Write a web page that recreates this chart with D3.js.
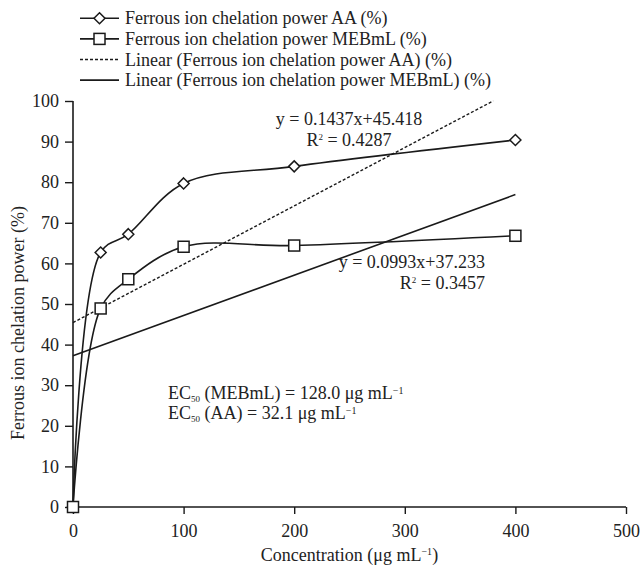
<!DOCTYPE html>
<html><head><meta charset="utf-8">
<script src="https://cdn.jsdelivr.net/npm/d3@7"></script>
<style>body{margin:0;background:#fff}svg{display:block}text{font-family:"Liberation Serif","DejaVu Serif",serif;fill:#222}</style>
</head><body><svg id="c" width="643" height="567"></svg>
<script>
const concentrations = [0, 25, 50, 100, 200, 400];
const aaValues = [0, 62.7, 67.2, 79.7, 83.9, 90.4];
const mebValues = [0, 48.9, 56.1, 64.1, 64.4, 66.8];
const xTicks = [0, 100, 200, 300, 400, 500];
const yTicks = [0, 10, 20, 30, 40, 50, 60, 70, 80, 90, 100];
const trendAA = {slope: 0.1437, intercept: 45.418, xEnd: 380};
const trendMEB = {slope: 0.0993, intercept: 37.233, xEnd: 400};
const legendLabels = ["Ferrous ion chelation power AA (%)", "Ferrous ion chelation power MEBmL (%)", "Linear (Ferrous ion chelation power AA) (%)", "Linear (Ferrous ion chelation power MEBmL) (%)"];

const FS = 18;
const svg = d3.select("#c");
const x = d3.scaleLinear().domain([0, 500]).range([73, 626]);
const y = d3.scaleLinear().domain([0, 100]).range([507, 101]);
const ink = "#1a1a1a";

// axes
const xAxis = svg.append("g").attr("transform", `translate(0,${y(0)})`)
  .call(d3.axisBottom(x).tickValues(xTicks).tickSize(7).tickPadding(10));
const yAxis = svg.append("g").attr("transform", `translate(${x(0)},0)`)
  .call(d3.axisLeft(y).tickValues(yTicks).tickSize(8).tickPadding(6));
[xAxis, yAxis].forEach(g => {
  g.select(".domain").attr("stroke", ink).attr("stroke-width", 1.6);
  g.selectAll(".tick line").attr("stroke", ink).attr("stroke-width", 1.4);
  g.selectAll(".tick text").attr("font-size", FS).attr("font-family", "Liberation Serif").attr("fill", "#222");
});
xAxis.select(".domain").attr("d", `M${x(0)},0H${x(500)}`);
yAxis.select(".domain").attr("d", `M0,${y(0)}V${y(100)}`);

// trend lines
function trend(t, dash) {
  svg.append("line")
    .attr("x1", x(0)).attr("y1", y(t.intercept))
    .attr("x2", x(t.xEnd)).attr("y2", y(t.slope * t.xEnd + t.intercept))
    .attr("stroke", ink).attr("stroke-width", dash ? 1.4 : 1.6)
    .attr("stroke-dasharray", dash ? "3,2" : null);
}
trend(trendAA, true);
trend(trendMEB, false);

// series lines
const line = d3.line().x(d => x(d[0])).y(d => y(d[1])).curve(d3.curveCatmullRom.alpha(0.5));
const aaData = concentrations.map((c, i) => [c, aaValues[i]]);
const mebData = concentrations.map((c, i) => [c, mebValues[i]]);
svg.append("path").datum(aaData).attr("d", line).attr("fill", "none").attr("stroke", ink).attr("stroke-width", 1.6);
svg.append("path").datum(mebData).attr("d", line).attr("fill", "none").attr("stroke", ink).attr("stroke-width", 1.6);

// markers
svg.append("g").selectAll("path").data(aaData).join("path")
  .attr("transform", d => `translate(${x(d[0])},${y(d[1])})`)
  .attr("d", "M0,-5.5L5.5,0L0,5.5L-5.5,0Z")
  .attr("fill", "#fff").attr("stroke", ink).attr("stroke-width", 1.5);
svg.append("g").selectAll("rect").data(mebData).join("rect")
  .attr("x", d => x(d[0]) - 5.5).attr("y", d => y(d[1]) - 5.5)
  .attr("width", 11).attr("height", 11)
  .attr("fill", "#fff").attr("stroke", ink).attr("stroke-width", 1.5);

// legend
const leg = svg.append("g");
legendLabels.forEach((lab, i) => {
  const ly = 18.3 + i * 20.6;
  const g = leg.append("g");
  g.append("line").attr("x1", 80).attr("x2", 119).attr("y1", ly).attr("y2", ly)
    .attr("stroke", ink).attr("stroke-width", i === 2 ? 1.3 : 1.6)
    .attr("stroke-dasharray", i === 2 ? "3,2" : null);
  if (i === 0) g.append("path").attr("d", `M99.5,${ly-5.5}L105,${ly}L99.5,${ly+5.5}L94,${ly}Z`).attr("fill", "#fff").attr("stroke", ink).attr("stroke-width", 1.5);
  if (i === 1) g.append("rect").attr("x", 94).attr("y", ly - 5.5).attr("width", 11).attr("height", 11).attr("fill", "#fff").attr("stroke", ink).attr("stroke-width", 1.5);
  g.append("text").attr("x", 125).attr("y", ly + 6).attr("font-size", FS).text(lab);
});

// annotations
svg.append("text").attr("x", 349).attr("y", 125).attr("font-size", FS).attr("text-anchor", "middle").text("y = 0.1437x+45.418");
const r1 = svg.append("text").attr("x", 349).attr("y", 145.5).attr("font-size", FS).attr("text-anchor", "middle");
r1.append("tspan").text("R");
r1.append("tspan").attr("font-size", 9).attr("dy", -6).text("2");
r1.append("tspan").attr("dy", 6).text(" = 0.4287");

svg.append("text").attr("x", 485).attr("y", 268).attr("font-size", FS).attr("text-anchor", "end").text("y = 0.0993x+37.233");
const r2 = svg.append("text").attr("x", 485).attr("y", 289).attr("font-size", FS).attr("text-anchor", "end");
r2.append("tspan").text("R");
r2.append("tspan").attr("font-size", 9).attr("dy", -6).text("2");
r2.append("tspan").attr("dy", 6).text(" = 0.3457");

function ec(yp, who, val) {
  const t = svg.append("text").attr("x", 168).attr("y", yp).attr("font-size", FS);
  t.append("tspan").text("EC");
  t.append("tspan").attr("font-size", 9).attr("dy", 3).text("50");
  t.append("tspan").attr("dy", -3).text(` (${who}) = ${val} μg mL`);
  t.append("tspan").attr("font-size", 10).attr("dy", -5).text("−1");
}
ec(398.5, "MEBmL", "128.0");
ec(418.5, "AA", "32.1");

// axis titles
const xt = svg.append("text").attr("x", x(250)).attr("y", 561).attr("font-size", FS).attr("text-anchor", "middle");
xt.append("tspan").text("Concentration (μg mL");
xt.append("tspan").attr("font-size", 10).attr("dy", -6).text("−1");
xt.append("tspan").attr("dy", 6).text(")");
svg.append("text").attr("transform", `translate(24,${(y(0)+y(100))/2 + 19}) rotate(-90)`)
  .attr("font-size", FS).attr("text-anchor", "middle").text("Ferrous ion chelation power (%)");
</script></body></html>
